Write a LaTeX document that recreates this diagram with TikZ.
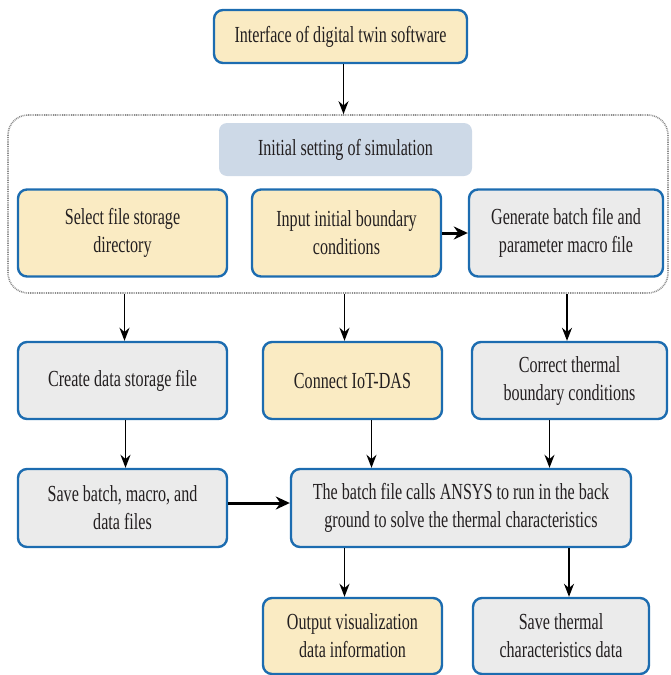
\documentclass[tikz,border=0pt]{standalone}
\usepackage{fontspec}
\setmainfont[FakeStretch=0.70]{Liberation Serif}
\usetikzlibrary{arrows.meta,calc}
\definecolor{boxyellow}{HTML}{FAEBC3}
\definecolor{boxgray}{HTML}{EBEBEB}
\definecolor{boxblue}{HTML}{1C6CB0}
\definecolor{labelblue}{HTML}{CDD9E7}
\definecolor{dotgray}{HTML}{8C8C8C}
\definecolor{txt}{HTML}{231F20}
\tikzset{
  base/.style={rounded corners=9pt, draw=boxblue, line width=2.4pt, align=center,
    inner sep=2pt, font=\fontsize{23}{28}\selectfont, text=txt},
  ybox/.style={base, fill=boxyellow},
  gbox/.style={base, fill=boxgray},
  lbox/.style={rounded corners=8pt, fill=labelblue, draw=none, align=center,
    font=\fontsize{23}{28}\selectfont, text=txt},
  group/.style={rounded corners=20pt, draw=dotgray, line width=1.6pt, dash pattern=on 0.9pt off 0.9pt},
  arr/.style={-{Stealth[length=13pt,width=10pt]}, line width=1.6pt, black},
  thickarr/.style={-{Stealth[length=14pt,width=13pt]}, line width=3pt, black},
}
\begin{document}
\begin{tikzpicture}[x=1pt,y=-1pt]
\useasboundingbox (0,0) rectangle (671,675);
% group
\node[group, minimum width=660pt, minimum height=178pt] (grp) at (338,204) {};
% nodes
\node[ybox, minimum width=253pt, minimum height=53pt] (top) at (340.5,36.5) {Interface of digital twin software};
\node[lbox, minimum width=253pt, minimum height=53pt] (lab) at (345.5,149.5) {Initial setting of simulation};
\node[ybox, minimum width=209pt, minimum height=87pt] (sel) at (122.5,233) {Select file storage\\directory};
\node[ybox, minimum width=189pt, minimum height=87pt] (inp) at (346.5,233) {Input initial boundary\\conditions};
\node[gbox, minimum width=194pt, minimum height=87pt] (gen) at (566,233) {Generate batch file and\\parameter macro file};
\node[gbox, minimum width=209pt, minimum height=77pt] (cre) at (122.5,380.5) {Create data storage file};
\node[ybox, minimum width=179pt, minimum height=77pt] (con) at (352.5,380.5) {Connect IoT-DAS};
\node[gbox, minimum width=195pt, minimum height=77pt] (cor) at (569.5,380.5) {Correct thermal\\boundary conditions};
\node[gbox, minimum width=209pt, minimum height=78pt] (sav) at (122.5,508) {Save batch, macro, and\\data files};
\node[gbox, minimum width=340pt, minimum height=78pt] (bat) at (461,508) {The batch file calls ANSYS to run in the back\\ground to solve the thermal characteristics};
\node[ybox, minimum width=179pt, minimum height=76pt] (out) at (352.5,636) {Output visualization\\data information};
\node[gbox, minimum width=176pt, minimum height=76pt] (sth) at (561,636) {Save thermal\\characteristics data};
% connectors
\draw[arr] ([xshift=3pt]top.south) -- ([xshift=3pt]top.south |- grp.north);
\draw[thickarr] (inp.east) -- (gen.west);
\draw[arr] ([xshift=2pt]sel.south |- grp.south) -- ([xshift=2pt]cre.north);
\draw[arr] ([xshift=-2pt]inp.south |- grp.south) -- ([xshift=-2pt]inp.south |- con.north);
\draw[arr] ([xshift=1pt]gen.south |- grp.south) -- ([xshift=1pt]gen.south |- cor.north);
\draw[arr] ([xshift=3pt]cre.south) -- ([xshift=3pt]sav.north);
\draw[arr] ([xshift=19pt]con.south) -- ([xshift=19pt]con.south |- bat.north);
\draw[arr] ([xshift=-20pt]cor.south) -- ([xshift=-20pt]cor.south |- bat.north);
\draw[thickarr] ([yshift=5pt]sav.east) -- ([yshift=5pt]sav.east -| bat.west);
\draw[arr] ([xshift=-8pt]out.north |- bat.south) -- ([xshift=-8pt]out.north);
\draw[arr] ([xshift=8pt]sth.north |- bat.south) -- ([xshift=8pt]sth.north);
\end{tikzpicture}
\end{document}
